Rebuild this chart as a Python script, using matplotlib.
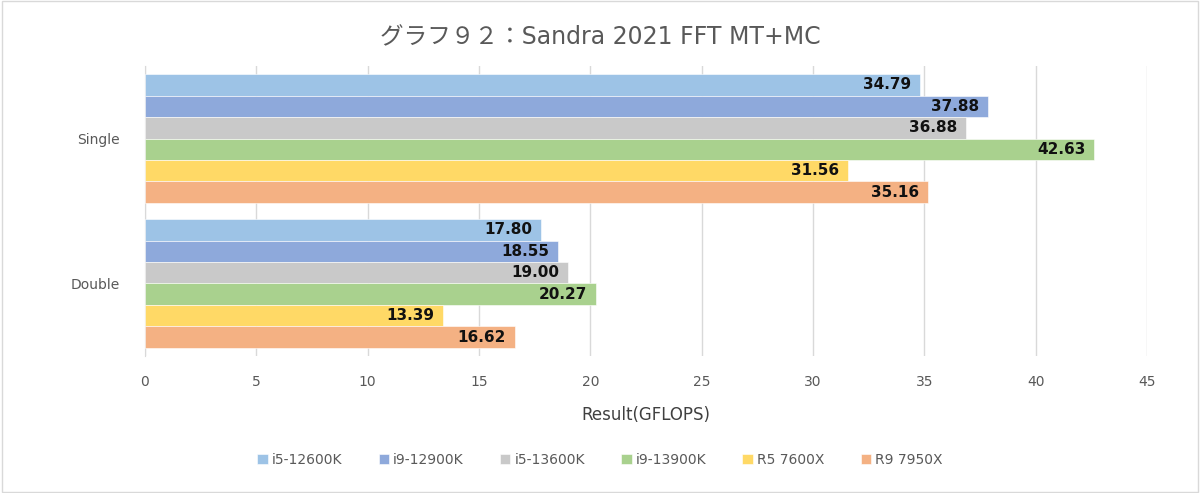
import numpy as np
import matplotlib
matplotlib.use("Agg")
import matplotlib.pyplot as plt
from matplotlib.patches import Rectangle

plt.rcParams['font.family'] = ['DejaVu Sans', 'Noto Sans CJK JP']

categories = ["Single", "Double"]
series = ["i5-12600K", "i9-12900K", "i5-13600K", "i9-13900K", "R5 7600X", "R9 7950X"]
single_vals = [34.79, 37.88, 36.88, 42.63, 31.56, 35.16]
double_vals = [17.80, 18.55, 19.00, 20.27, 13.39, 16.62]
colors = ["#9DC3E6", "#8EA9DB", "#C9C9C9", "#A9D18E", "#FFD966", "#F4B183"]

values = np.array([single_vals, double_vals])  # shape (cat, series)

fig = plt.figure(figsize=(12, 4.93), dpi=100)
fig.patches.append(Rectangle((0.002, 0.003), 0.996, 0.994, transform=fig.transFigure,
                             fill=False, edgecolor="#D9D9D9", linewidth=1.0))
ax = fig.add_axes([0.1208, 0.278, 0.835, 0.588])

n = len(series)
bar_h = 0.148
group_w = bar_h * n
for i, name in enumerate(series):
    y = np.arange(len(categories)) - group_w / 2 + bar_h * (i + 0.5)
    bars = ax.barh(y, values[:, i], height=bar_h, color=colors[i], label=name,
                   edgecolor="white", linewidth=0.4, zorder=3)
    for b, v in zip(bars, values[:, i]):
        ax.text(b.get_width() - 0.4, b.get_y() + b.get_height() / 2, f"{v:.2f}",
                ha="right", va="center", fontsize=11, fontweight="bold",
                color="#111111", zorder=4)

ax.set_xlim(0, 45)
ax.set_xticks(np.arange(0, 46, 5))
ax.set_ylim(len(categories) - 0.5, -0.5)
ax.set_yticks(np.arange(len(categories)))
ax.set_yticklabels(categories)
ax.grid(axis="x", color="#D9D9D9", linewidth=1.0, zorder=0)
for s in ["top", "right", "bottom"]:
    ax.spines[s].set_visible(False)
ax.spines["left"].set_color("#D9D9D9")
ax.tick_params(axis="both", length=0, labelsize=10, colors="#595959")
ax.tick_params(axis="x", pad=14)
ax.tick_params(axis="y", pad=18)

ax.set_xlabel("Result(GFLOPS)", fontsize=12, color="#404040", labelpad=12)
fig.suptitle("グラフ９２：Sandra 2021 FFT MT+MC", fontsize=17, color="#595959",
             y=0.948, va="top")

fig.legend(*ax.get_legend_handles_labels(), loc="center", bbox_to_anchor=(0.5, 0.067),
           ncol=6, frameon=False, fontsize=10, handlelength=0.75, handleheight=0.75,
           handletextpad=0.3, columnspacing=2.6, labelcolor="#595959")

fig.savefig("out.png", dpi=100)
